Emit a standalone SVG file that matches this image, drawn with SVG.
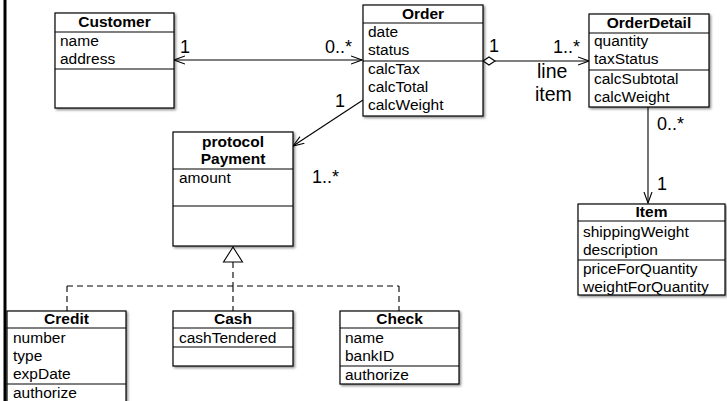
<svg xmlns="http://www.w3.org/2000/svg" width="727" height="401" viewBox="0 0 727 401">
<style>
.box{fill:#fff;stroke:#000;stroke-width:1.2;filter:url(#sh)}
.ln{stroke:#000;stroke-width:1.2;fill:none}
.t{font-family:"Liberation Sans",Arial,sans-serif;font-size:15.5px;fill:#000}
.b{font-family:"Liberation Sans",Arial,sans-serif;font-size:15.5px;font-weight:bold;fill:#000;text-anchor:middle}
.m{font-family:"Liberation Sans",Arial,sans-serif;font-size:18px;fill:#000}
.li{font-family:"Liberation Sans",Arial,sans-serif;font-size:19.5px;fill:#000}
.c{stroke:#000;stroke-width:1.1;fill:none}
.d{stroke:#000;stroke-width:1.1;fill:none;stroke-dasharray:6,4}
</style>
<defs>
<filter id="sh" x="-10%" y="-10%" width="130%" height="130%">
<feDropShadow dx="1.5" dy="1.5" stdDeviation="1" flood-color="#000" flood-opacity="0.45"/>
</filter>
<marker id="arr" viewBox="0 0 12 10" refX="11" refY="5" markerWidth="12" markerHeight="10" markerUnits="userSpaceOnUse" orient="auto-start-reverse">
<path d="M0,1 L11,5 L0,9" fill="none" stroke="#000" stroke-width="1.1"/>
</marker>
</defs>
<rect x="0" y="0" width="727" height="401" fill="#fff"/>
<rect x="3.5" y="0" width="3" height="401" fill="#000"/>

<g id="connectors">
<line class="c" x1="174" y1="60" x2="362" y2="60" marker-start="url(#arr)" marker-end="url(#arr)"/>
<path d="M483,61 L489,57 L495,61 L489,65 Z" fill="#fff" stroke="#000" stroke-width="1.1"/>
<line class="c" x1="495" y1="61" x2="589" y2="61" marker-end="url(#arr)"/>
<line class="c" x1="363" y1="100" x2="293" y2="146" marker-end="url(#arr)"/>
<line class="c" x1="648" y1="107" x2="648" y2="203" marker-end="url(#arr)"/>
<line class="d" x1="233" y1="262" x2="233" y2="286"/>
<line class="d" x1="67" y1="286" x2="399" y2="286"/>
<line class="d" x1="67" y1="286" x2="67" y2="311"/>
<line class="d" x1="233" y1="286" x2="233" y2="311"/>
<line class="d" x1="399" y1="286" x2="399" y2="311"/>
<path d="M233,247 L242.5,262 L223.5,262 Z" fill="#fff" stroke="#000" stroke-width="1.1"/>
<text class="m" x="180" y="53">1</text>
<text class="m" x="325" y="53">0..*</text>
<text class="m" x="489" y="52">1</text>
<text class="m" x="553" y="53">1..*</text>
<text class="li" x="537" y="78">line</text>
<text class="li" x="535" y="101">item</text>
<text class="m" x="335" y="107">1</text>
<text class="m" x="312" y="183">1..*</text>
<text class="m" x="657" y="130">0..*</text>
<text class="m" x="657" y="190">1</text>
</g>

<g id="Customer">
<rect class="box" x="55" y="13" width="119" height="95"/>
<line class="ln" x1="55" y1="32" x2="174" y2="32"/>
<line class="ln" x1="55" y1="69" x2="174" y2="69"/>
<text class="b" x="114.5" y="27">Customer</text>
<text class="t" x="60" y="46">name</text>
<text class="t" x="60" y="64">address</text>
</g>

<g id="Order">
<rect class="box" x="363" y="5" width="120" height="111"/>
<line class="ln" x1="363" y1="23" x2="483" y2="23"/>
<line class="ln" x1="363" y1="61" x2="483" y2="61"/>
<text class="b" x="423" y="19">Order</text>
<text class="t" x="368" y="37">date</text>
<text class="t" x="368" y="55">status</text>
<text class="t" x="368" y="74">calcTax</text>
<text class="t" x="368" y="92">calcTotal</text>
<text class="t" x="368" y="110">calcWeight</text>
</g>

<g id="OrderDetail">
<rect class="box" x="589" y="14" width="120" height="93"/>
<line class="ln" x1="589" y1="33" x2="709" y2="33"/>
<line class="ln" x1="589" y1="70" x2="709" y2="70"/>
<text class="b" x="649" y="28">OrderDetail</text>
<text class="t" x="594" y="46">quantity</text>
<text class="t" x="594" y="64">taxStatus</text>
<text class="t" x="594" y="84">calcSubtotal</text>
<text class="t" x="594" y="102">calcWeight</text>
</g>

<g id="Payment">
<rect class="box" x="173" y="132" width="120" height="114"/>
<line class="ln" x1="173" y1="169" x2="293" y2="169"/>
<line class="ln" x1="173" y1="206" x2="293" y2="206"/>
<text class="b" x="233" y="147">protocol</text>
<text class="b" x="233" y="164">Payment</text>
<text class="t" x="179" y="183">amount</text>
</g>

<g id="Item">
<rect class="box" x="578" y="204" width="147" height="91"/>
<line class="ln" x1="578" y1="221" x2="725" y2="221"/>
<line class="ln" x1="578" y1="260" x2="725" y2="260"/>
<text class="b" x="651.5" y="217">Item</text>
<text class="t" x="583" y="237">shippingWeight</text>
<text class="t" x="583" y="255">description</text>
<text class="t" x="583" y="274">priceForQuantity</text>
<text class="t" x="583" y="292">weightForQuantity</text>
</g>

<g id="Credit">
<rect class="box" x="7" y="311" width="119" height="95"/>
<line class="ln" x1="7" y1="328" x2="126" y2="328"/>
<line class="ln" x1="7" y1="384" x2="126" y2="384"/>
<text class="b" x="66.5" y="324">Credit</text>
<text class="t" x="13" y="343">number</text>
<text class="t" x="13" y="361">type</text>
<text class="t" x="13" y="379">expDate</text>
<text class="t" x="13" y="398">authorize</text>
</g>

<g id="Cash">
<rect class="box" x="173" y="311" width="120" height="55"/>
<line class="ln" x1="173" y1="328" x2="293" y2="328"/>
<line class="ln" x1="173" y1="347" x2="293" y2="347"/>
<text class="b" x="233" y="324">Cash</text>
<text class="t" x="179" y="343">cashTendered</text>
</g>

<g id="Check">
<rect class="box" x="340" y="311" width="119" height="73"/>
<line class="ln" x1="340" y1="328" x2="459" y2="328"/>
<line class="ln" x1="340" y1="366" x2="459" y2="366"/>
<text class="b" x="399.5" y="324">Check</text>
<text class="t" x="345" y="343">name</text>
<text class="t" x="345" y="361">bankID</text>
<text class="t" x="345" y="380">authorize</text>
</g>
</svg>
